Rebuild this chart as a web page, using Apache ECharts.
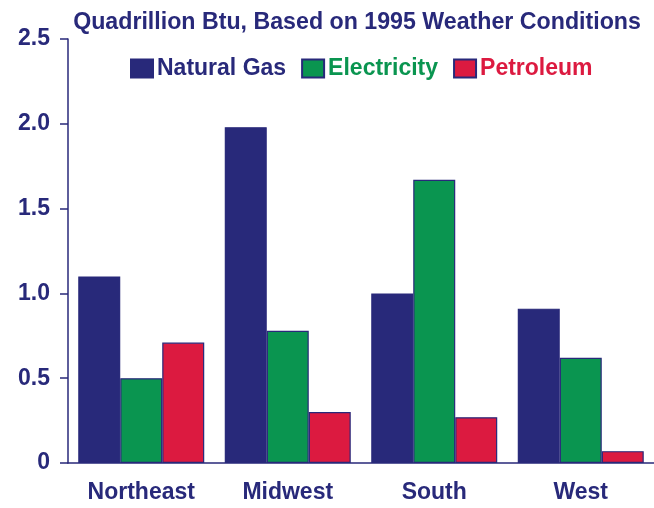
<!DOCTYPE html>
<html>
<head>
<meta charset="utf-8">
<script src="https://cdn.jsdelivr.net/npm/echarts@6/dist/echarts.min.js"></script>
<style>
  html, body { margin: 0; padding: 0; background: #fff; }
  #chart { width: 654px; height: 508px; }
</style>
</head>
<body>
<div id="chart"></div>
<script>
// data
var regions = ['Northeast', 'Midwest', 'South', 'West']
var naturalGas = [1.10, 1.98, 1.00, 0.91]
var electricity = [0.50, 0.78, 1.67, 0.62]
var petroleum = [0.71, 0.30, 0.27, 0.07]
var yTicks = [0, 0.5, 1.0, 1.5, 2.0, 2.5]

var navy = '#28297a'
var green = '#0a9550'
var red = '#dc1a40'
var font = 'Liberation Sans, Arial, sans-serif'

var chart = echarts.init(document.getElementById('chart'))
chart.setOption({
  animation: false,
  title: {
    text: 'Quadrillion Btu, Based on 1995 Weather Conditions',
    left: 352,
    textAlign: 'center',
    top: 6,
    textStyle: {
      color: navy,
      fontFamily: font,
      fontWeight: 'bold',
      fontSize: 23.2
    }
  },
  legend: {
    top: 57,
    left: 130,
    padding: 0,
    icon: 'rect',
    itemWidth: 22,
    itemHeight: 18,
    itemGap: 15,
    textStyle: {
      fontFamily: font,
      fontWeight: 'bold',
      fontSize: 23,
      padding: [0, 0, 0, -1]
    },
    data: [
      { name: 'Natural Gas', textStyle: { color: navy } },
      { name: 'Electricity', textStyle: { color: green } },
      { name: 'Petroleum', textStyle: { color: red } }
    ]
  },
  grid: {
    left: 68,
    right: 0,
    top: 39,
    bottom: 45
  },
  xAxis: {
    type: 'category',
    data: regions,
    axisLine: { lineStyle: { color: navy, width: 1.5 } },
    axisTick: { alignWithLabel: true, length: 7, lineStyle: { color: navy, width: 1.5 } },
    axisLabel: {
      margin: 18,
      color: navy,
      fontFamily: font,
      fontWeight: 'bold',
      fontSize: 23
    }
  },
  yAxis: {
    type: 'value',
    min: yTicks[0],
    max: yTicks[yTicks.length - 1],
    interval: 0.5,
    splitLine: { show: false },
    axisLine: { show: true, lineStyle: { color: navy, width: 1.5 } },
    axisTick: { show: true, length: 8, lineStyle: { color: navy, width: 1.5 } },
    axisLabel: {
      margin: 18,
      color: navy,
      fontFamily: font,
      fontWeight: 'bold',
      fontSize: 23,
      formatter: function (v) { return v === 0 ? '0' : v.toFixed(1) }
    }
  },
  series: [
    {
      name: 'Natural Gas',
      type: 'bar',
      barGap: '0%',
      barCategoryGap: '14%',
      data: naturalGas,
      itemStyle: { color: navy, borderColor: navy, borderWidth: 1.2 }
    },
    {
      name: 'Electricity',
      type: 'bar',
      data: electricity,
      itemStyle: { color: green, borderColor: navy, borderWidth: 1.2 }
    },
    {
      name: 'Petroleum',
      type: 'bar',
      data: petroleum,
      itemStyle: { color: red, borderColor: navy, borderWidth: 1.2 }
    }
  ]
})
</script>
</body>
</html>
